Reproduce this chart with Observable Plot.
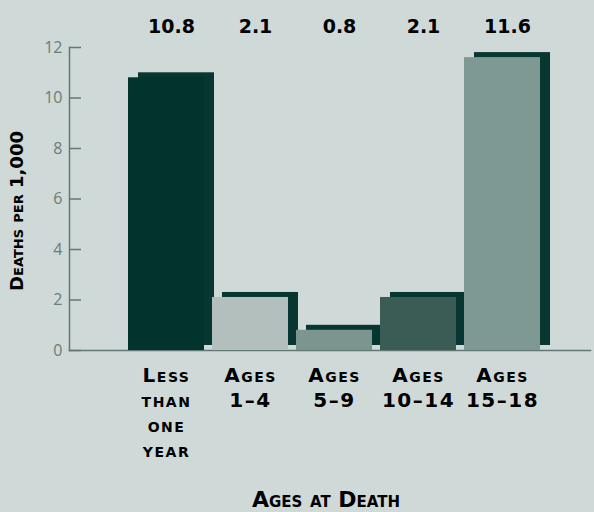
<!DOCTYPE html>
<html>
<head>
<meta charset="utf-8">
<script src="https://cdn.jsdelivr.net/npm/d3@7"></script>
<script src="https://cdn.jsdelivr.net/npm/@observablehq/plot@0.6"></script>
<style>
  html, body { margin: 0; padding: 0; background: #cfd9d7; }
  #chart svg { display: block; }
  #chart g[aria-label="value labels"] text { letter-spacing: 2px; }
  #chart g[aria-label="x-axis tick label"] text { letter-spacing: 1.5px; }
  #chart g[aria-label="x title"] text { letter-spacing: 2.5px; }
  #chart g[aria-label="y title"] text { letter-spacing: 0.5px; }
</style>
</head>
<body>
<div id="chart"></div>
<script>
const categories = ["Less than one year", "Ages 1–4", "Ages 5–9", "Ages 10–14", "Ages 15–18"];
const categoryLabels = ["Less\nthan\none\nyear", "Ages\n1–4", "Ages\n5–9", "Ages\n10–14", "Ages\n15–18"];
const deaths = [10.8, 2.1, 0.8, 2.1, 11.6];
const valueLabels = ["10.8", "2.1", "0.8", "2.1", "11.6"];
const frontColors = ["#02332d", "#b2bfbc", "#7c968f", "#3b5b55", "#7e9893"];
const shadowColor = "#083630";
const yTicks = [0, 2, 4, 6, 8, 10, 12];

const data = categories.map((c, i) => ({category: c, value: deaths[i], label: valueLabels[i], color: frontColors[i]}));
const labelOf = new Map(categories.map((c, i) => [c, categoryLabels[i]]));

const boldFont = "'DejaVu Sans', sans-serif";

const chart = Plot.plot({
  width: 594,
  height: 512,
  marginLeft: 69,
  marginRight: 4,
  marginTop: 47,
  marginBottom: 162,
  style: {background: "#cfd9d7", fontFamily: boldFont, overflow: "visible"},
  x: {domain: categories, range: [118.8, 550.2], padding: 0.09},
  y: {domain: [0, 12]},
  color: {type: "identity"},
  marks: [
    Plot.frame({anchor: "left", stroke: "#627874", strokeWidth: 1.5}),
    Plot.frame({anchor: "bottom", stroke: "#627874", strokeWidth: 1.5}),
    Plot.axisY({ticks: yTicks, tickSize: -12, tickPadding: 19, stroke: "#627874", strokeWidth: 1.5,
      fill: "#6a7c78", fontSize: 16, fontFamily: "'Open Sans', sans-serif", label: null}),
    Plot.barY(data, {x: "category", y: "value", fill: shadowColor, dx: 10, dy: -5}),
    Plot.barY(data, {x: "category", y: "value", fill: "color"}),
    Plot.axisX({tickSize: 0, tickPadding: 14, tickFormat: d => labelOf.get(d), fontSize: 20,
      fontWeight: "bold", fontVariant: "small-caps", fill: "#000", lineHeight: 1.25,
      textAnchor: "middle", lineAnchor: "top", label: null}),
    Plot.text(data, {x: "category", text: "label", frameAnchor: "top", dy: -28, dx: 5,
      fontSize: 19, fontWeight: "bold", fill: "#000", ariaLabel: "value labels"}),
    Plot.text(["Deaths per 1,000"], {frameAnchor: "left", textAnchor: "middle", dx: -52, dy: 12, rotate: -90,
      fontSize: 18, fontWeight: "bold", fontVariant: "small-caps", fill: "#000", ariaLabel: "y title"}),
    Plot.text(["Ages at Death"], {frameAnchor: "bottom", dx: -4, dy: 156,
      fontSize: 22, fontWeight: "bold", fontVariant: "small-caps", fill: "#000", ariaLabel: "x title"})
  ]
});
document.getElementById("chart").appendChild(chart);
</script>
</body>
</html>
